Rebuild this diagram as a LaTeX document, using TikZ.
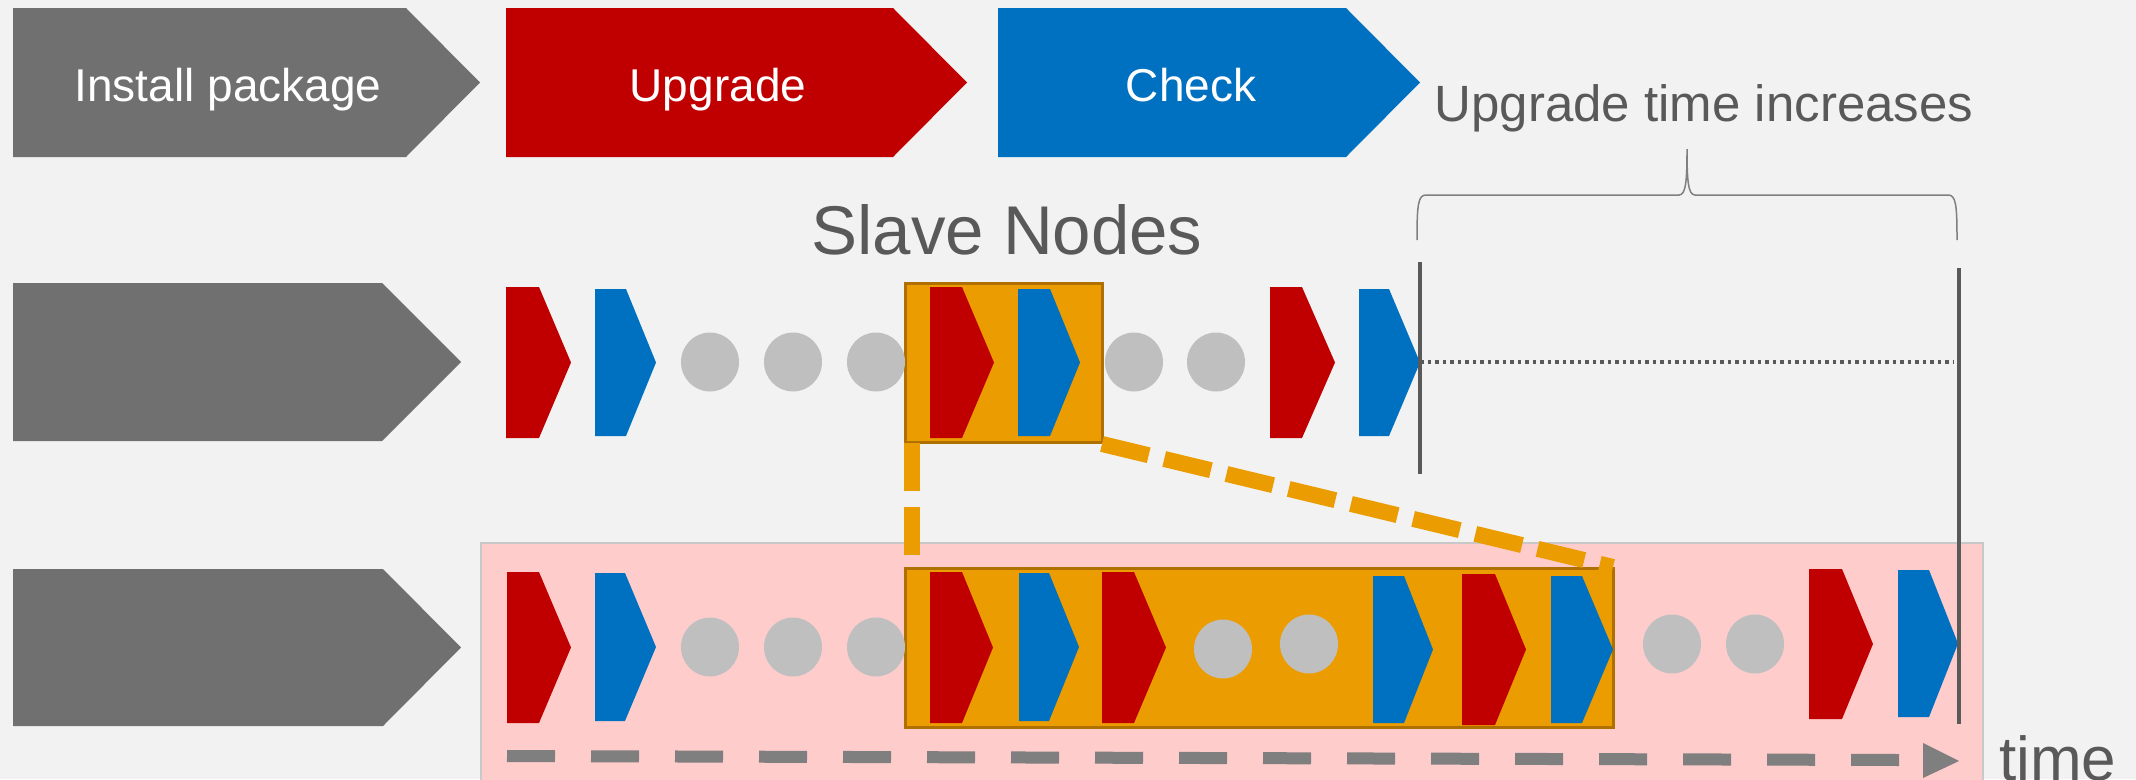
\documentclass[tikz,border=0pt]{standalone}
\usepackage{fontspec}
\setmainfont{Liberation Sans}
\definecolor{bg}{HTML}{F2F2F2}
\definecolor{cgray}{HTML}{707070}
\definecolor{cred}{HTML}{C00000}
\definecolor{cblue}{HTML}{0070C0}
\definecolor{corange}{HTML}{EB9C00}
\definecolor{cobord}{HTML}{B07000}
\definecolor{cdot}{HTML}{BFBFBF}
\definecolor{cpink}{HTML}{FFCCCC}
\definecolor{cpinkb}{HTML}{C8C8C8}
\definecolor{ctext}{HTML}{595959}
\definecolor{carrow}{HTML}{7F7F7F}
\newcommand\mychev[6]{\fill[#1] (#2,#5) -- (#3,#5) -- (#4,{(#5+#6)/2}) -- (#3,#6) -- (#2,#6) -- cycle;}
\newcommand\mydot[2]{\fill[cdot] (#1,#2) ellipse[x radius=29, y radius=29.5];}
\begin{document}
\begin{tikzpicture}[x=1pt,y=-1pt,
  whitelbl/.style={text=white,inner sep=0pt,anchor=base,font=\fontsize{46}{55}\selectfont},
  graylbl/.style={text=ctext,inner sep=0pt,anchor=base},
  obox/.style={fill=corange,draw=cobord,line width=3},
  odash/.style={draw=corange,line width=16,dash pattern=on 48 off 16},
  vline/.style={draw=ctext,line width=3.5},
  bracestyle/.style={draw=carrow,line width=1.5}]
\fill[bg] (0,0) rectangle (2136,779);
\useasboundingbox (0,0) rectangle (2136,779);

% top row
\mychev{cgray}{13}{406}{480}{8}{157}
\mychev{cred}{506}{893}{967}{8}{157}
\mychev{cblue}{998}{1346}{1420}{8}{157}
\node[whitelbl] (install) at (228,101) {Install package};
\node[whitelbl] (upgrade) at (718,101) {Upgrade};
\node[whitelbl] (check) at (1191,101) {Check};

\node[graylbl,font=\fontsize{51}{60}\selectfont] (uti) at (1704,121) {Upgrade time increases};
\node[graylbl,font=\fontsize{69}{80}\selectfont] (slave) at (1007,254) {Slave Nodes};

% brace
\draw[bracestyle] (1417,240) .. controls (1417,205) and (1418,195) .. (1426,195)
  -- (1679,195) .. controls (1686,195) and (1687,180) .. (1687,149)
  .. controls (1687,180) and (1688,195) .. (1695,195)
  -- (1948,195) .. controls (1956,195) and (1957,205) .. (1957,240);

% pink area
\draw[fill=cpink,draw=cpinkb,line width=2.5] (481,543) rectangle (1983,800);

% row 2
\mychev{cgray}{13}{382}{461}{283}{441}
\draw[obox] (905,283) rectangle (1102,442);
\coordinate (b2sw) at (912,443);
\coordinate (b2se) at (1102,444);
\mychev{cred}{506}{539}{571}{287}{438}
\mychev{cblue}{595}{626}{656}{289}{436}
\mydot{710}{362}\mydot{793}{362}\mydot{876}{362}
\mychev{cred}{930}{962}{994}{287}{438}
\mychev{cblue}{1018}{1050}{1080}{289}{436}
\mydot{1134}{362}\mydot{1216}{362}
\mychev{cred}{1270}{1302}{1335}{287}{438}
\mychev{cblue}{1359}{1389}{1420}{289}{436}

% row 3
\mychev{cgray}{13}{383}{461}{569}{726}
\draw[obox] (905,568) rectangle (1613,727);
\coordinate (b3nw) at (912,568);
\coordinate (b3ne) at (1613,567);
\mychev{cred}{507}{539}{571}{572}{723}
\mychev{cblue}{595}{625}{656}{573}{721}
\mydot{710}{647}\mydot{793}{647}\mydot{876}{647}
\mychev{cred}{930}{962}{993}{572}{723}
\mychev{cblue}{1019}{1049}{1079}{573}{721}
\mychev{cred}{1102}{1134}{1166}{572}{723}
\mydot{1223}{649}\mydot{1309}{644}
\mychev{cblue}{1373}{1404}{1433}{576}{723}
\mychev{cred}{1462}{1495}{1526}{574}{725}
\mychev{cblue}{1551}{1582}{1613}{576}{723}
\mydot{1672}{644}\mydot{1755}{644}
\mychev{cred}{1809}{1842}{1873}{569}{719}
\mychev{cblue}{1898}{1929}{1958}{570}{717}

% orange zoom lines
\draw[odash] (b2sw) -- (b3nw);
\draw[odash] (b2se) -- (b3ne);

% time markers
\coordinate (t1a) at (1420,262); \coordinate (t1b) at (1420,474);
\coordinate (t2a) at (1959,268); \coordinate (t2b) at (1959,724);
\draw[vline] (t1a) -- (t1b);
\draw[vline] (t2a) -- (t2b);
\coordinate (d1) at (1420,362); \coordinate (d2) at (1954,362);
\draw[draw=ctext,line width=4,dash pattern=on 3.5 off 4] (d1) -- (d2);

% time arrow
\coordinate (ta) at (507,756); \coordinate (tb) at (1899,760);
\draw[carrow,line width=12,dash pattern=on 48 off 36] (ta) -- (tb);
\fill[carrow] (1923,743) -- (1959,761) -- (1923,778) -- cycle;
\node[graylbl,anchor=base west,font=\fontsize{62}{70}\selectfont] (time) at (1999,780) {time};
\end{tikzpicture}
\end{document}
